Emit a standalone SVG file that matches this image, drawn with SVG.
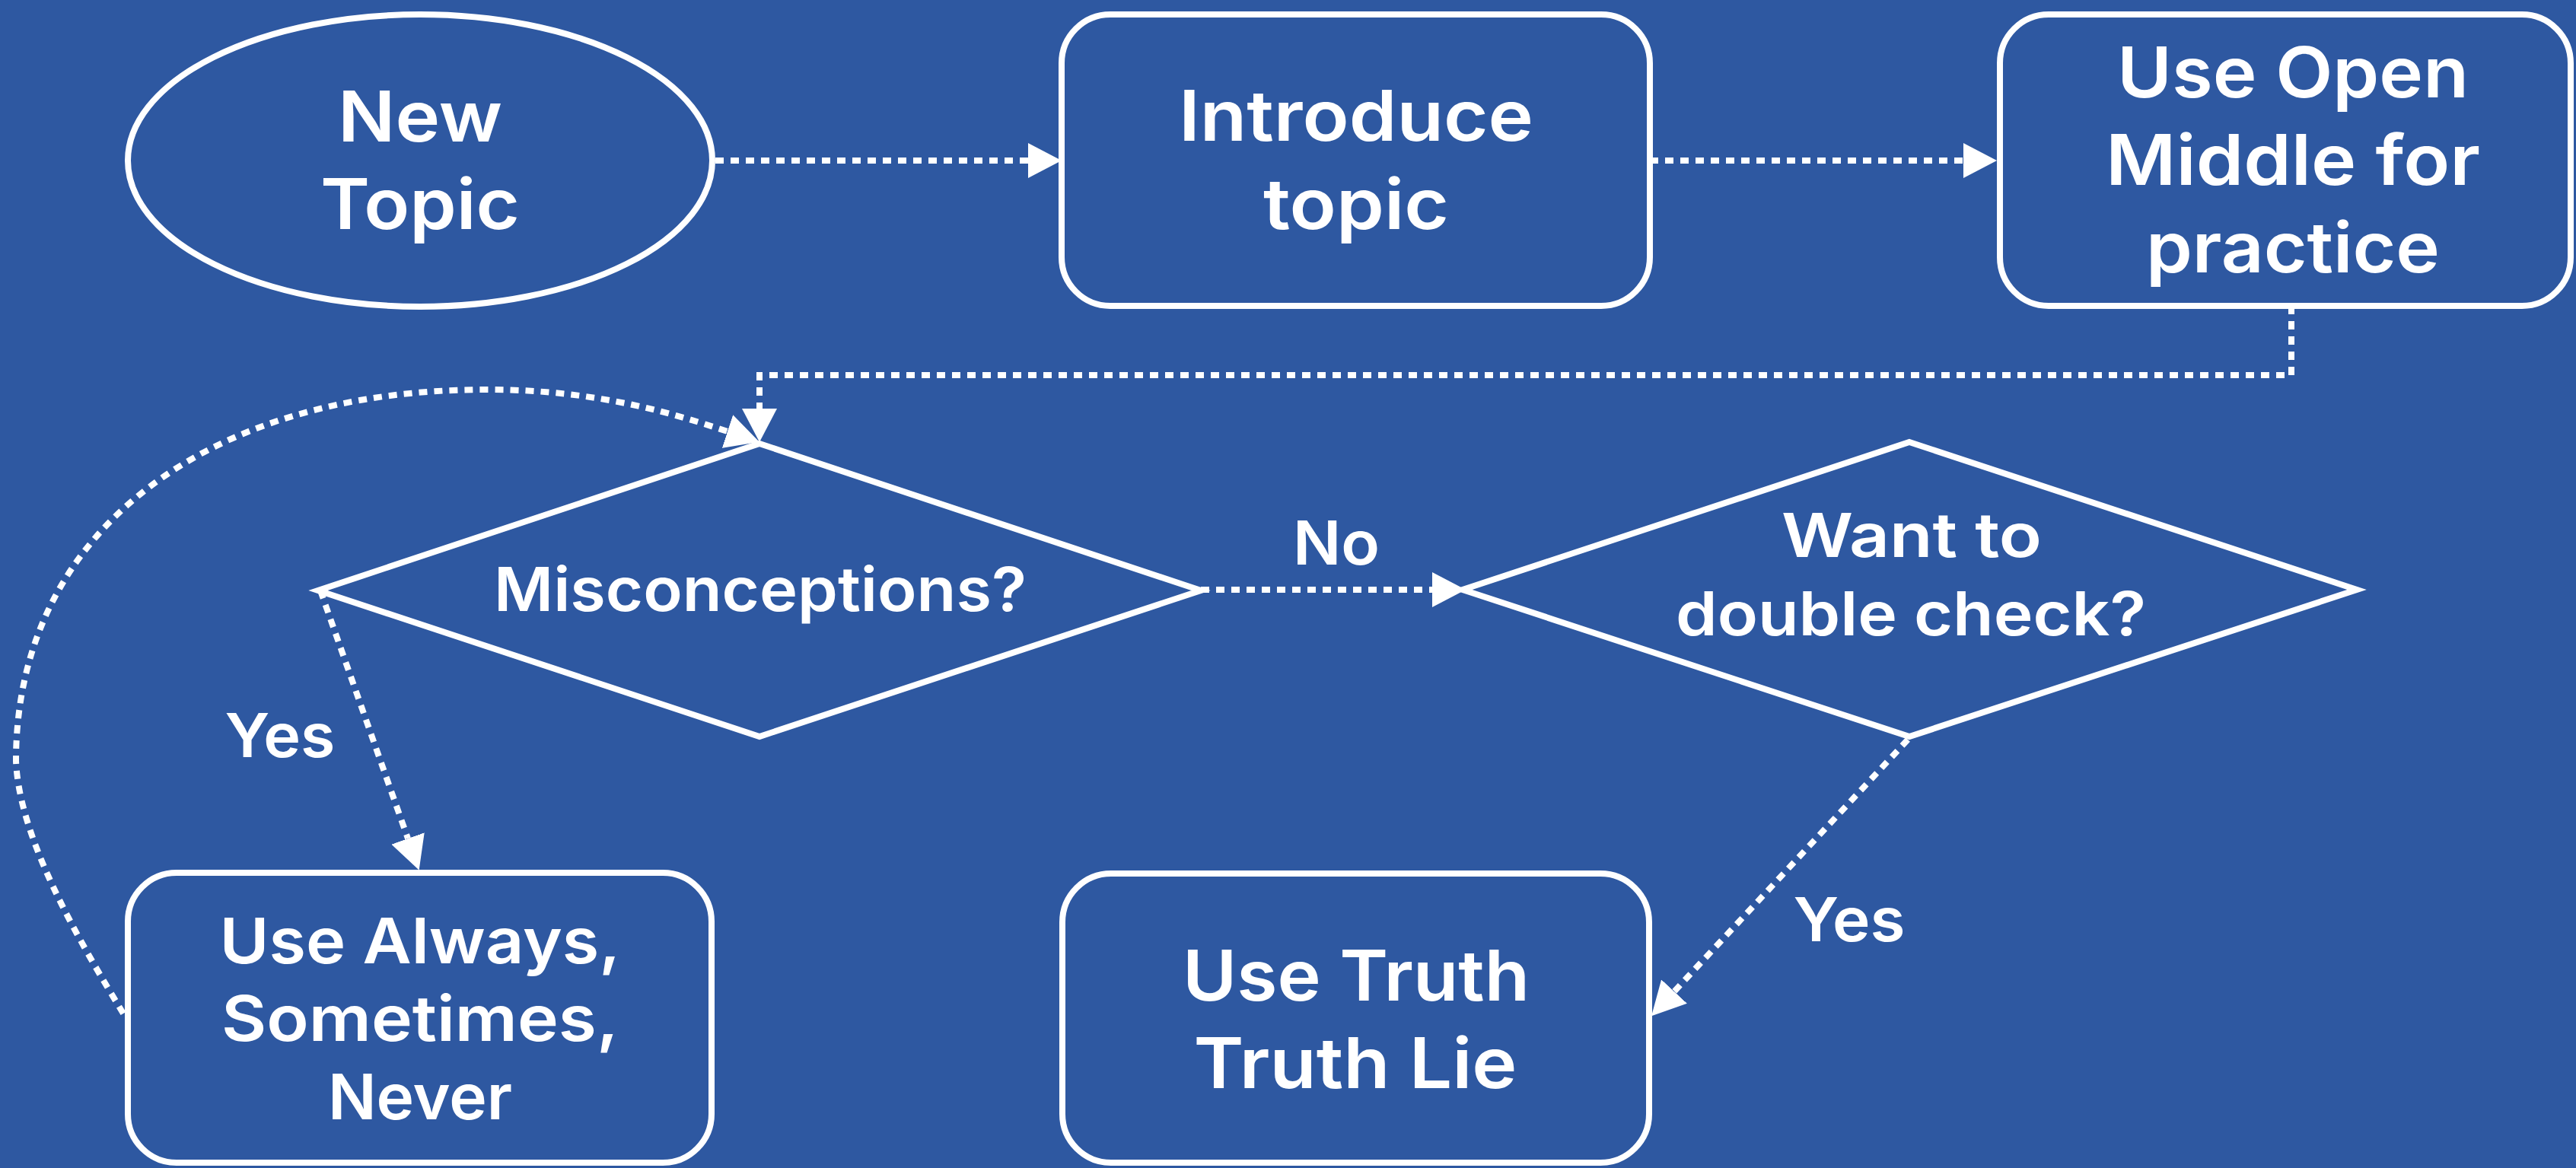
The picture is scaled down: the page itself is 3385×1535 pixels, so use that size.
<svg xmlns="http://www.w3.org/2000/svg" width="3385" height="1535" viewBox="0 0 3385 1535">
<defs>
<style>
.shape{fill:none;stroke:#ffffff;stroke-width:8}
.conn{fill:none;stroke:#ffffff;stroke-width:8;stroke-dasharray:11 9;marker-end:url(#arr)}
.t{fill:#ffffff;font-family:Inter,"Open Sans","Liberation Sans",sans-serif;font-weight:600;text-anchor:middle}
.big{font-size:92px}
.mid{font-size:83px}
.sm{font-size:80px}
</style>
<marker id="arr" viewBox="0 0 44 46" markerWidth="44" markerHeight="46" refX="0" refY="23" orient="auto" markerUnits="userSpaceOnUse">
<path d="M0 0 L44 23 L0 46 Z" fill="#ffffff"/>
</marker>
</defs>
<rect x="0" y="0" width="3385" height="1535" fill="#2E58A1"/>
<g id="connectors">
<path class="conn" d="M 940 211 H 1351"/>
<path class="conn" d="M 2168 211 H 2580"/>
<path class="conn" d="M 3011 402 V 493 H 998 V 537"/>
<path class="conn" d="M 1578 775 H 1882"/>
<path class="conn" d="M 421 776 L 536 1102"/>
<path class="conn" d="M 2507 972 L 2200 1303"/>
<path class="conn" d="M 162 1332 C 100 1230, 25 1100, 21 1000 C 21 700, 270 512, 640 512 C 790 512, 895 547, 956 567"/>
<text class="t sm" x="1756" y="742" textLength="114" lengthAdjust="spacingAndGlyphs">No</text>
<text class="t sm" x="368" y="995" textLength="145" lengthAdjust="spacingAndGlyphs">Yes</text>
<text class="t sm" x="2430" y="1237" textLength="147" lengthAdjust="spacingAndGlyphs">Yes</text>
</g>
<g id="new-topic">
<ellipse class="shape" cx="552" cy="211" rx="384" ry="192"/>
<text class="t big" x="552" y="186" textLength="216" lengthAdjust="spacingAndGlyphs">New</text>
<text class="t big" x="552" y="301" textLength="262" lengthAdjust="spacingAndGlyphs">Topic</text>
</g>
<g id="introduce-topic">
<rect class="shape" x="1395" y="19" width="773" height="383" rx="64" ry="64"/>
<text class="t big" x="1782" y="185" textLength="466" lengthAdjust="spacingAndGlyphs">Introduce</text>
<text class="t big" x="1782" y="301" textLength="244" lengthAdjust="spacingAndGlyphs">topic</text>
</g>
<g id="open-middle">
<rect class="shape" x="2628" y="19" width="750" height="383" rx="64" ry="64"/>
<text class="t big" x="3013" y="128" textLength="462" lengthAdjust="spacingAndGlyphs">Use Open</text>
<text class="t big" x="3013" y="243" textLength="492" lengthAdjust="spacingAndGlyphs">Middle for</text>
<text class="t big" x="3013" y="358" textLength="386" lengthAdjust="spacingAndGlyphs">practice</text>
</g>
<g id="misconceptions">
<polygon class="shape" points="998,583 1578,776 998,968 418,776"/>
<text class="t sm" x="999" y="803" textLength="700" lengthAdjust="spacingAndGlyphs">Misconceptions?</text>
</g>
<g id="double-check">
<polygon class="shape" points="2509,581 3097,775 2509,968 1922,775"/>
<text class="t sm" x="2512" y="732" textLength="342" lengthAdjust="spacingAndGlyphs">Want to</text>
<text class="t sm" x="2511" y="835" textLength="618" lengthAdjust="spacingAndGlyphs">double check?</text>
</g>
<g id="always-sometimes-never">
<rect class="shape" x="168" y="1147" width="767" height="381" rx="64" ry="64"/>
<text class="t mid" x="552" y="1266" textLength="527" lengthAdjust="spacingAndGlyphs">Use Always,</text>
<text class="t mid" x="552" y="1368" textLength="522" lengthAdjust="spacingAndGlyphs">Sometimes,</text>
<text class="t mid" x="552" y="1471" textLength="242" lengthAdjust="spacingAndGlyphs">Never</text>
</g>
<g id="truth-truth-lie">
<rect class="shape" x="1396" y="1148" width="771" height="380" rx="64" ry="64"/>
<text class="t big" x="1782" y="1315" textLength="456" lengthAdjust="spacingAndGlyphs">Use Truth</text>
<text class="t big" x="1781" y="1430" textLength="425" lengthAdjust="spacingAndGlyphs">Truth Lie</text>
</g>
</svg>
